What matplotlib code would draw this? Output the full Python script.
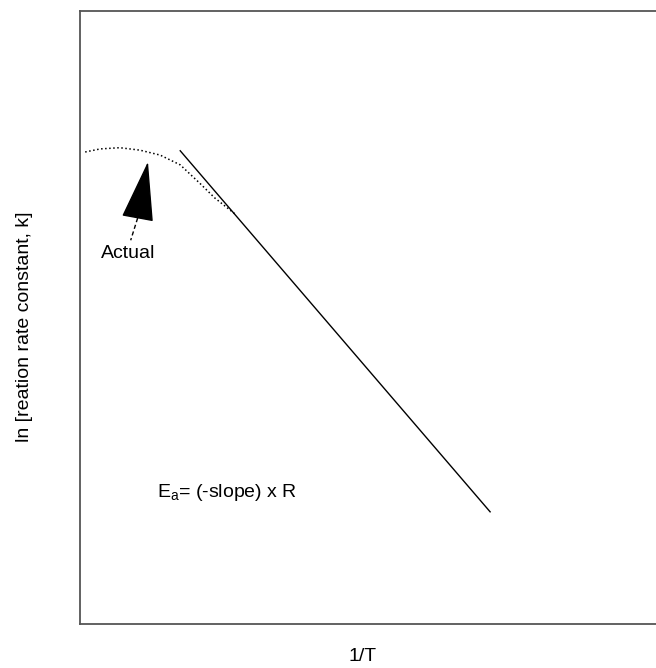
import numpy as np
import matplotlib.pyplot as plt

plt.rcParams['font.family'] = ['Liberation Sans', 'DejaVu Sans']

# linear Arrhenius fit (ln k vs 1/T)
fit_x = [1.74, 7.12]
fit_y = [7.72, 1.83]

# actual measured curve (dotted), bends away at high temperature
actual_x = [0.09, 0.35, 0.69, 1.04, 1.39, 1.74, 2.08, 2.34, 2.69]
actual_y = [7.70, 7.75, 7.77, 7.73, 7.65, 7.49, 7.19, 6.95, 6.69]

fig = plt.figure(figsize=(6.56, 6.68), dpi=100)
ax = fig.add_axes([80/656, 44/668, 576/656, 613/668])

ax.plot(actual_x, actual_y, linestyle=':', color='black', linewidth=1.1)
ax.plot(fit_x, fit_y, linestyle='-', color='black', linewidth=1.0)

# arrow pointing at the actual curve: solid head, dashed tail
ax.annotate('', xy=(1.18, 7.54), xytext=(1.0, 6.62),
            arrowprops=dict(arrowstyle='-|>,head_length=2.6,head_width=0.7',
                            mutation_scale=15, color='black', linewidth=1.0,
                            shrinkA=0, shrinkB=0))
ax.plot([1.0, 0.88], [6.62, 6.26], linestyle=(0, (3, 2)), color='black', linewidth=1.0)
ax.text(0.83, 6.05, 'Actual', ha='center', va='center', fontsize=14)

ax.text(1.34, 2.14, r'E$_\mathregular{a}$= (-slope) x R', fontsize=14, ha='left', va='center')

ax.set_xlim(0, 10)
ax.set_ylim(0, 10)
ax.set_xticks([])
ax.set_yticks([])
for s in ['left', 'top', 'bottom']:
    ax.spines[s].set_color('#555555')
    ax.spines[s].set_linewidth(1.3)
ax.spines['right'].set_visible(False)

ax.set_xlabel('1/T', fontsize=14)
ax.set_ylabel('ln [reation rate constant, k]', fontsize=14)
ax.xaxis.set_label_coords(0.491, -0.039)
ax.yaxis.set_label_coords(-0.082, 0.485)

fig.savefig('out.png', dpi=100)
